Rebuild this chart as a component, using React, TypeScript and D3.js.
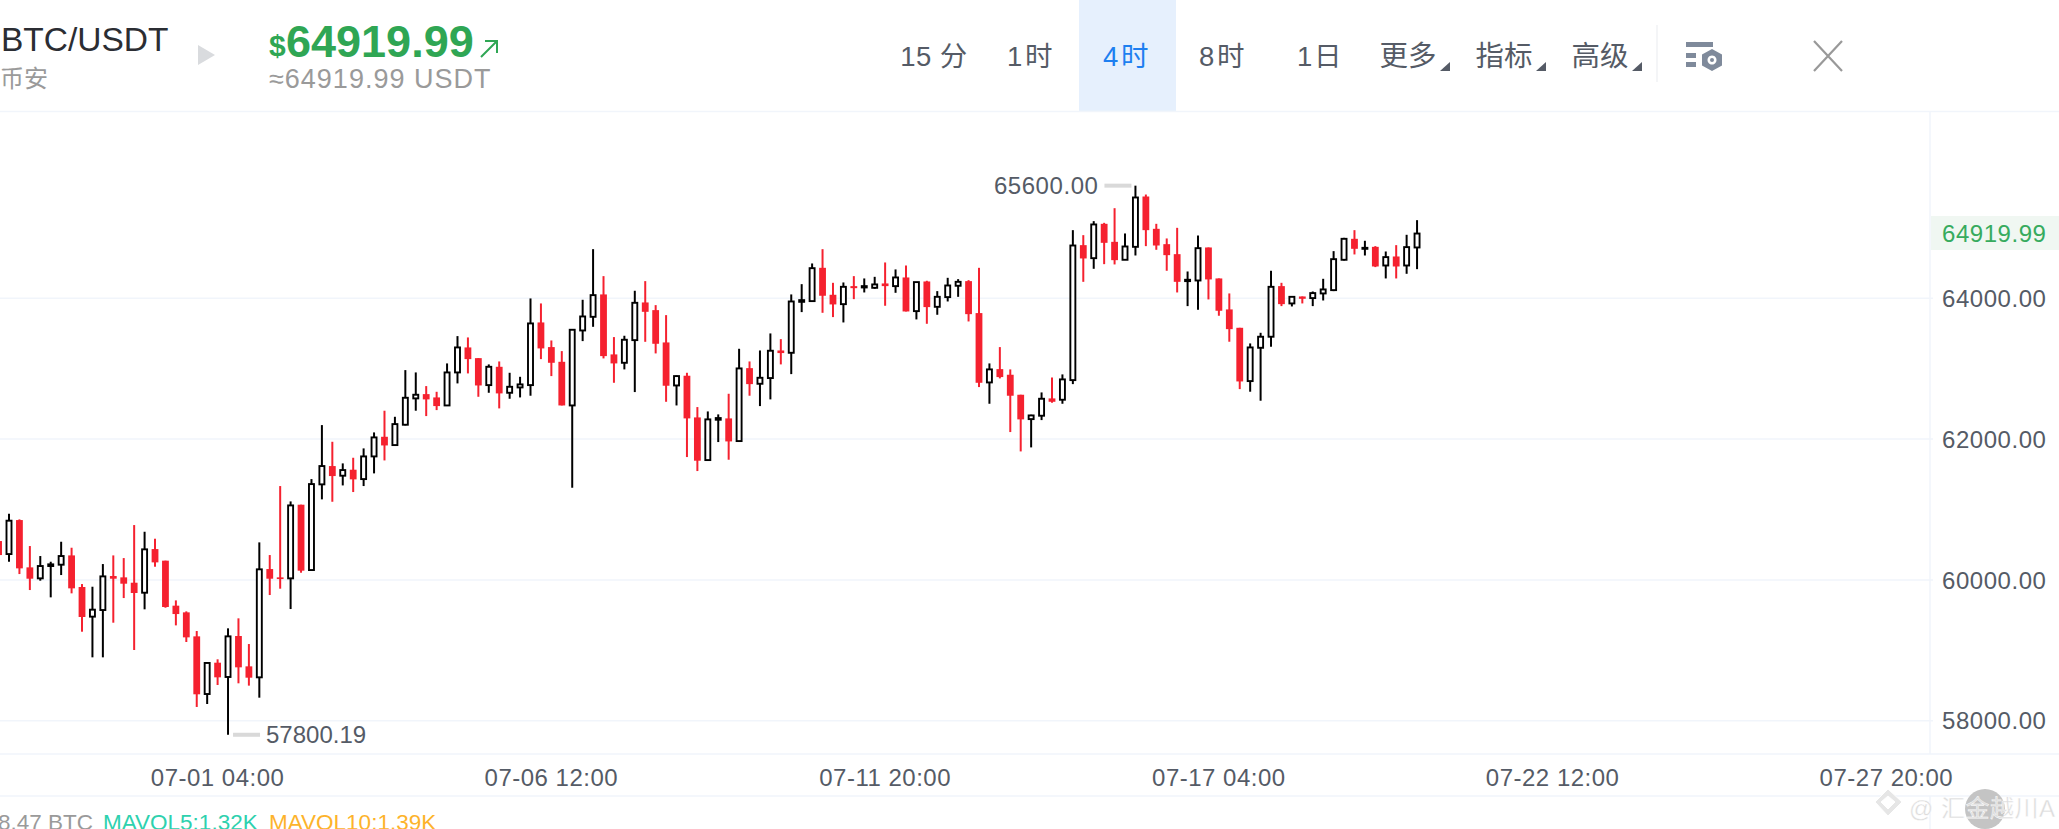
import * as d3 from 'd3';
import React from 'react';

// 4h candles, first one is 06-27 16:00 and is half off the left edge
const opens = [
	60552, 60367, 60850, 60178, 60022, 60197, 60216, 60348, 59899, 59478, 59572, 60055, 60036, 59960, 59818, 60438, 60273, 59634, 59539, 59198,
	58379, 58824, 58621, 59203, 58772, 58616, 60154, 60036, 60022, 61068, 60140, 61357, 61617, 61480, 61565, 61432, 61754, 62033, 61915, 62204,
	62578, 62639, 62592, 62478, 62947, 63302, 63150, 62767, 63027, 62658, 62734, 62767, 63657, 63307, 63098, 62478, 63543, 63737, 64055, 63203,
	63084, 63406, 63941, 63832, 63373, 62762, 62900, 62308, 61702, 62275, 62294, 61972, 63008, 62786, 62867, 63259, 63226, 63950, 63960, 64433,
	64050, 63917, 64173, 64154, 64149, 64211, 64173, 64296, 63818, 64239, 63879, 64017, 64178, 64244, 63790, 62805, 62994, 62914, 62630, 62284,
	62332, 62578, 62559, 62838, 64755, 64570, 65058, 64802, 64547, 64731, 65446, 64987, 64769, 64627, 64244, 64253, 64722, 64282, 63842, 63581,
	62824, 63297, 63454, 64173, 63927, 64026, 64003, 64069, 64116, 64547, 64845, 64703, 64731, 64466, 64594, 64466, 64722,
];
const highs = [
	60552, 60940, 60860, 60481, 60339, 60258, 60542, 60457, 59941, 59903, 60225, 60348, 60310, 60779, 60684, 60585, 60273, 59709, 59553, 59274,
	58834, 58872, 59312, 59454, 59089, 60533, 60353, 61333, 61115, 61068, 61432, 62199, 61962, 61655, 61735, 61868, 62095, 62403, 62317, 62980,
	62947, 62753, 62672, 63075, 63463, 63444, 63150, 63061, 63103, 62942, 62885, 63998, 63927, 63401, 63250, 63553, 63979, 64698, 64315, 63449,
	63468, 64107, 64244, 63903, 63761, 62904, 62942, 62455, 62393, 62351, 62644, 63283, 63103, 63259, 63501, 63420, 64055, 64201, 64495, 64698,
	64220, 64225, 64315, 64282, 64305, 64509, 64410, 64466, 64230, 64249, 64102, 64291, 64272, 64258, 64433, 63075, 63307, 62990, 62630, 62346,
	62663, 62876, 62919, 64968, 64897, 65096, 65072, 65280, 64921, 65600, 65474, 65058, 64850, 65001, 64381, 64892, 64722, 64282, 64069, 63581,
	63359, 63510, 64391, 64220, 64031, 64026, 64097, 64277, 64670, 64859, 64968, 64817, 64741, 64665, 64755, 64902, 65110,
];
const lows = [
	60353, 60258, 60083, 59856, 59989, 59752, 60069, 59809, 59264, 58900, 58900, 59392, 59742, 59004, 59582, 60187, 59605, 59354, 59118, 58195,
	58237, 58507, 57800.19, 58531, 58498, 58327, 59785, 59875, 59586, 60102, 60140, 61144, 61110, 61342, 61248, 61333, 61513, 61697, 61910, 62194,
	62403, 62327, 62412, 62478, 62791, 62933, 62601, 62658, 62436, 62573, 62592, 62616, 63136, 62895, 62478, 61309, 63392, 63595, 63146, 62800,
	62990, 62668, 63382, 63217, 62530, 62478, 61745, 61546, 61702, 61958, 61707, 61967, 62616, 62469, 62564, 63061, 62923, 63804, 63960, 63794,
	63733, 63657, 63988, 64083, 64135, 63894, 64078, 63813, 63700, 63638, 63766, 63955, 64021, 63671, 62739, 62502, 62862, 62100, 61825, 61882,
	62270, 62516, 62502, 62781, 64234, 64419, 64485, 64481, 64547, 64608, 64741, 64689, 64391, 64083, 63889, 63837, 63984, 63752, 63383, 62710,
	62673, 62545, 63312, 63889, 63884, 63927, 63889, 63969, 64102, 64537, 64623, 64608, 64443, 64282, 64282, 64348, 64414,
];
const closes = [
	60353, 60841, 60164, 60017, 60197, 60221, 60339, 59880, 59473, 59577, 60050, 60017, 59946, 59814, 60434, 60249, 59615, 59515, 59184, 58375,
	58820, 58616, 59198, 58758, 58611, 60150, 60017, 60012, 61058, 60131, 61361, 61617, 61475, 61560, 61428, 61754, 62024, 61910, 62213, 62587,
	62630, 62564, 62469, 62947, 63302, 63136, 62762, 63027, 62649, 62743, 62777, 63643, 63288, 63084, 62478, 63553, 63742, 64045, 63179, 63075,
	63411, 63936, 63808, 63354, 62758, 62895, 62294, 61693, 62280, 62299, 61967, 63004, 62781, 62871, 63255, 63222, 63955, 63974, 64428, 64036,
	63913, 64163, 64144, 64173, 64197, 64173, 64296, 63813, 64230, 63875, 64021, 64182, 64234, 63775, 62800, 62990, 62881, 62616, 62280, 62336,
	62573, 62530, 62848, 64750, 64566, 65049, 64788, 64542, 64736, 65432, 64968, 64750, 64613, 64234, 64263, 64712, 64268, 63823, 63562, 62819,
	63302, 63454, 64163, 63917, 64021, 63993, 64074, 64126, 64556, 64845, 64703, 64717, 64452, 64585, 64452, 64727, 64919.99,
];

const priceTicks = [58000, 60000, 62000, 64000];
const timeTicks = ['07-01 04:00', '07-06 12:00', '07-11 20:00', '07-17 04:00', '07-22 12:00', '07-27 20:00'];
const periods = [
	{ label: '15 分', x: 934, spacing: 0.5 },
	{ label: '1时', x: 1031, spacing: 2.5 },
	{ label: '4时', x: 1127, spacing: 2.5, active: true },
	{ label: '8时', x: 1223, spacing: 2.5 },
	{ label: '1日', x: 1320, spacing: 1.5 },
];
const menus = [
	{ label: '更多', x: 1408 },
	{ label: '指标', x: 1504 },
	{ label: '高级', x: 1600 },
];

const lastPrice = 64919.99;
const width = 2059;
const height = 829;
const axisX = 1930;
const FONT = '"Liberation Sans","Noto Sans CJK SC",sans-serif';
const RED = '#f5212f';
const GRID = '#f1f5fb';
const TEXT = '#555b66';

const FOUR_HOURS = 4 * 3600 * 1000;
const parseTime = d3.utcParse('%Y-%m-%d %H:%M');
const startTime = +parseTime('2024-06-27 16:00')!;
const timeOf = (i: number) => new Date(startTime + i * FOUR_HOURS);

const x = d3
	.scaleUtc()
	.domain([timeOf(1), timeOf(181)])
	.range([9, 1886.4]);
const y = d3.scaleLinear().domain([58000, 64000]).range([720.7, 298.3]);
const fmt = d3.format('.2f');

const highest = d3.max(highs)!;
const lowest = d3.min(lows)!;
const highestAt = highs.indexOf(highest);
const lowestAt = lows.indexOf(lowest);

const App = () => {
	return (
		<svg
			width={width}
			height={height}
			style={{ position: 'absolute', left: 0, top: 0, background: '#fff' }}
			fontFamily={FONT}
		>
			{/* header */}
			<rect x={1079} y={0} width={97} height={111} fill="#e6f0fd" />
			<text x={1} y={51} fontSize={33.5} fill="#2b2d33">BTC/USDT</text>
			<text x={0} y={87} fontSize={24} fill="#9a9a9a">币安</text>
			<path d="M198,45 L215,55 L198,65 Z" fill="#d9dbde" />
			<text x={269} y={56} fontSize={30} fontWeight={700} fill="#2fa654">$</text>
			<text x={286} y={57} fontSize={45} fontWeight={700} fill="#2fa654">64919.99</text>
			<path d="M481,57 L497,41 M485,41 L497,41 L497,53" fill="none" stroke="#2fa654" strokeWidth={2} />
			<text x={269} y={88} fontSize={27} letterSpacing={1} fill="#9a9a9a">≈64919.99 USDT</text>
			{periods.map((d) => (
				<text
					key={d.label}
					x={d.x}
					y={66}
					fontSize={27.5}
					letterSpacing={d.spacing}
					textAnchor="middle"
					fill={d.active ? '#1e7ff0' : TEXT}
				>
					{d.label}
				</text>
			))}
			{menus.map((d) => (
				<g key={d.label}>
					<text x={d.x} y={66} fontSize={28.5} textAnchor="middle" fill={TEXT}>{d.label}</text>
					<path d={`M${d.x + 32},71 L${d.x + 42},71 L${d.x + 42},62 Z`} fill={TEXT} />
				</g>
			))}
			<line x1={1657} x2={1657} y1={25} y2={82} stroke="#f1f2f4" strokeWidth={1.5} />
			<g fill="#7f8a9b">
				<rect x={1686} y={42} width={27} height={5} />
				<rect x={1686} y={53} width={10} height={5} />
				<rect x={1686} y={62} width={10} height={5} />
				<path
					fillRule="evenodd"
					d="M1712,49 L1722,54.5 L1722,65.5 L1712,71 L1702,65.5 L1702,54.5 Z M1712,55.5 a4.5,4.5 0 1,0 0.01,0 Z"
				/>
				<circle cx={1712} cy={60} r={2} />
			</g>
			<path d="M1814,41 L1842,71 M1842,41 L1814,71" stroke="#999" strokeWidth={2.2} fill="none" />

			{/* frame */}
			<line x1={0} x2={width} y1={111.5} y2={111.5} stroke={GRID} strokeWidth={1.5} />
			<line x1={0} x2={width} y1={754} y2={754} stroke={GRID} strokeWidth={1.5} />
			<line x1={0} x2={width} y1={796} y2={796} stroke={GRID} strokeWidth={1.5} />
			<line x1={axisX} x2={axisX} y1={111} y2={754} stroke={GRID} strokeWidth={1.5} />
			<line x1={axisX} x2={axisX} y1={796} y2={height} stroke={GRID} strokeWidth={1.5} />

			{/* price axis */}
			{priceTicks.map((d) => (
				<g key={d}>
					<line x1={0} x2={1933} y1={y(d)} y2={y(d)} stroke={GRID} strokeWidth={1.5} />
					<text x={1942} y={y(d)} dy="0.36em" fontSize={24} letterSpacing={0.55} fill={TEXT}>{fmt(d)}</text>
				</g>
			))}
			<rect x={axisX + 1} y={216} width={width - axisX} height={34} fill="#f0f7f2" />
			<text x={1942} y={y(lastPrice)} dy="0.36em" fontSize={24} letterSpacing={0.55} fill="#37ab5e">{fmt(lastPrice)}</text>

			{/* candles */}
			{opens.map((open, i) => {
				const cx = x(timeOf(i));
				const close = closes[i];
				const up = close >= open;
				const top = y(Math.max(open, close));
				const bottom = y(Math.min(open, close));
				const color = up ? '#000' : RED;
				return (
					<g key={i}>
						<line x1={cx} x2={cx} y1={y(highs[i])} y2={y(lows[i])} stroke={color} strokeWidth={2} />
						{up ? (
							<rect x={cx - 2.5} y={top} width={5} height={Math.max(bottom - top, 1)} fill="#fff" stroke="#000" strokeWidth={1.9} />
						) : (
							<rect x={cx - 3.4} y={top} width={6.8} height={Math.max(bottom - top, 1.5)} fill={RED} />
						)}
					</g>
				);
			})}

			{/* high / low marks */}
			<rect x={x(timeOf(highestAt)) - 31} y={y(highest) - 2} width={27} height={4} fill="#d9d9d9" />
			<text x={x(timeOf(highestAt)) - 37} y={y(highest)} dy="0.36em" fontSize={24} letterSpacing={0.55} textAnchor="end" fill={TEXT}>{fmt(highest)}</text>
			<rect x={x(timeOf(lowestAt)) + 5} y={y(lowest) - 2} width={27} height={4} fill="#d9d9d9" />
			<text x={x(timeOf(lowestAt)) + 38} y={y(lowest)} dy="0.36em" fontSize={24} fill={TEXT}>{fmt(lowest)}</text>

			{/* time axis */}
			{timeTicks.map((d) => (
				<text
					key={d}
					x={x(parseTime('2024-' + d)!)}
					y={777}
					dy="0.36em"
					fontSize={24}
					letterSpacing={0.5}
					textAnchor="middle"
					fill={TEXT}
				>
					{d}
				</text>
			))}

			{/* volume legend, cut by the bottom edge like the source */}
			<text x={93} y={830} fontSize={22.5} textAnchor="end" fill="#9a9a9a">8.47 BTC</text>
			<text x={103} y={830} fontSize={22.5} fill="#2ed1ae">MAVOL5:1.32K</text>
			<text x={269} y={830} fontSize={22.5} fill="#fdb32b">MAVOL10:1.39K</text>

			{/* watermark */}
			<circle cx={1985} cy={809} r={20} fill="#c4c4c4" />
			<path
				d="M1888,789 L1902,802 L1888,816 L1875,802 Z M1888,796 L1895,802 L1888,809 L1881,802 Z"
				fill="#e6e6e6"
				fillRule="evenodd"
				stroke="#fff"
				strokeWidth={1}
			/>
			<text x={1909} y={817} fontSize={24} letterSpacing={0.5} fill="#dcdcdc" stroke="#fff" strokeWidth={0.4}>@ 汇金越川A</text>
		</svg>
	);
};

export default App;
